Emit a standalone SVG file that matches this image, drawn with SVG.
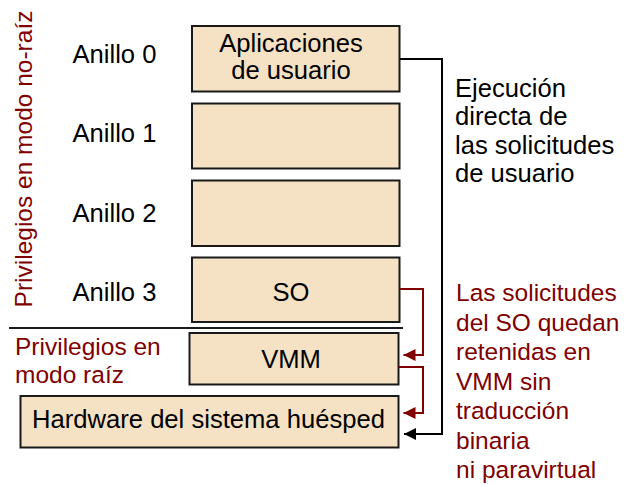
<svg xmlns="http://www.w3.org/2000/svg" width="633" height="486" viewBox="0 0 633 486">
<style>
.box{fill:#F5E1C3;stroke:#1a1a1a;stroke-width:2}
.t{font-family:"Liberation Sans",Arial,sans-serif;font-size:25.6px;fill:#000}
.r{fill:#800000;font-size:24.5px}
.c{text-anchor:middle}
.lk{fill:none;stroke:#000;stroke-width:2}
.lr{fill:none;stroke:#800000;stroke-width:2}
</style>
<defs>
<marker id="ak" markerWidth="13" markerHeight="12" refX="12" refY="6" orient="auto" markerUnits="userSpaceOnUse"><path d="M0,0 L12,6 L0,12 Z" fill="#000"/></marker>
<marker id="ar" markerWidth="13" markerHeight="12" refX="12" refY="6" orient="auto" markerUnits="userSpaceOnUse"><path d="M0,0 L12,6 L0,12 Z" fill="#800000"/></marker>
</defs>
<g id="labels">
<text class="t r c" transform="translate(32,159) rotate(-90)">Privilegios en modo no-raíz</text>
<text class="t" x="72.5" y="62.5">Anillo 0</text>
<text class="t" x="72.5" y="142">Anillo 1</text>
<text class="t" x="72.5" y="221.5">Anillo 2</text>
<text class="t" x="72.5" y="301">Anillo 3</text>
<text class="t r" x="15" y="354.5">Privilegios en</text>
<text class="t r" x="15" y="382.5">modo raíz</text>
<text class="t" x="455" y="96.5">Ejecución</text>
<text class="t" x="455" y="125">directa de</text>
<text class="t" x="455" y="153.5">las solicitudes</text>
<text class="t" x="455" y="182">de usuario</text>
<text class="t r" x="456" y="301">Las solicitudes</text>
<text class="t r" x="456" y="330.5">del SO quedan</text>
<text class="t r" x="456" y="360">retenidas en</text>
<text class="t r" x="456" y="389.5">VMM sin</text>
<text class="t r" x="456" y="419">traducción</text>
<text class="t r" x="456" y="448.5">binaria</text>
<text class="t r" x="456" y="478">ni paravirtual</text>
</g>
<g id="ring0">
<rect class="box" x="192" y="26" width="207.5" height="65.5"/>
<text class="t c" x="291" y="51.5">Aplicaciones</text>
<text class="t c" x="291" y="79">de usuario</text>
</g>
<g id="ring1"><rect class="box" x="192" y="103.5" width="207.5" height="65"/></g>
<g id="ring2"><rect class="box" x="192" y="180.5" width="207.5" height="65.5"/></g>
<g id="ring3">
<rect class="box" x="192" y="257.5" width="207.5" height="64.5"/>
<text class="t c" x="291" y="301">SO</text>
</g>
<g id="vmm">
<rect class="box" x="189.5" y="333" width="209" height="51.5"/>
<text class="t c" x="291" y="367.5">VMM</text>
</g>
<g id="hardware">
<rect class="box" x="20.5" y="396" width="378" height="51.5"/>
<text class="t c" x="208.5" y="428.3">Hardware del sistema huésped</text>
</g>
<g id="connectors">
<line x1="9" y1="328" x2="403" y2="328" stroke="#1a1a1a" stroke-width="2"/>
<polyline class="lk" points="400,59 442,59 442,434 404,434" marker-end="url(#ak)"/>
<polyline class="lr" points="399.5,289 423,289 423,355 403.5,355" marker-end="url(#ar)"/>
<polyline class="lr" points="398.5,367 423,367 423,413 403.5,413" marker-end="url(#ar)"/>
</g>
</svg>
